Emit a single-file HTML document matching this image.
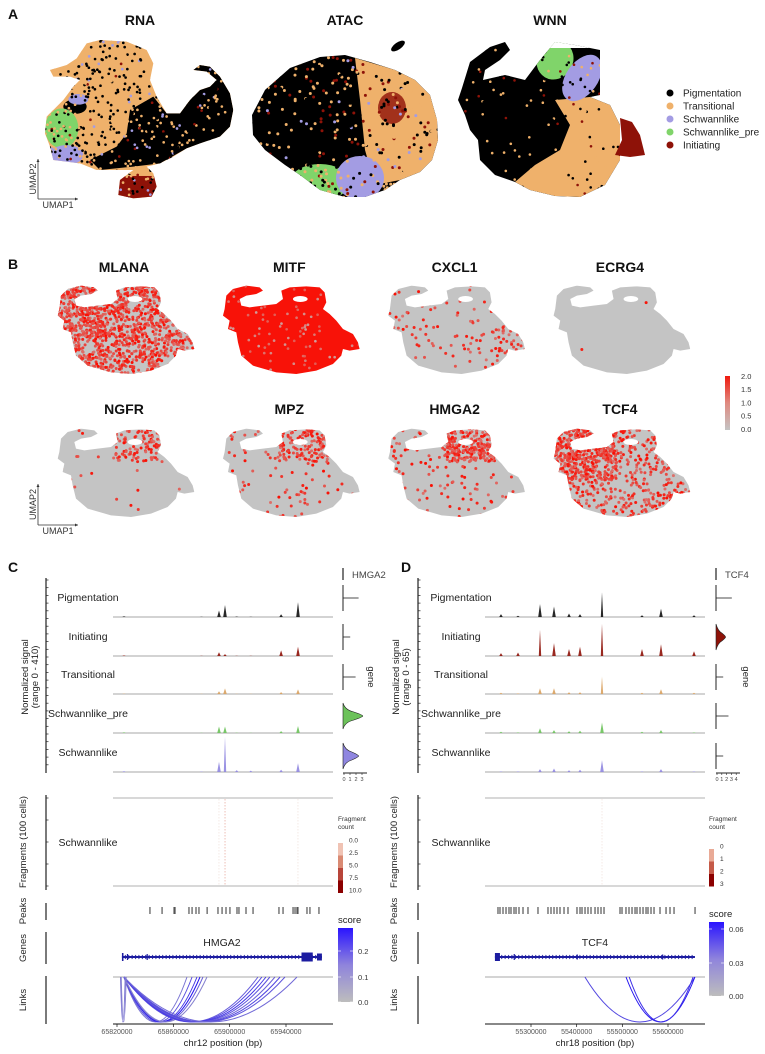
<!DOCTYPE html>
<html><head><meta charset="utf-8">
<style>
html,body{margin:0;padding:0;background:#fff;}
svg{display:block;font-family:"Liberation Sans",Arial,sans-serif;}
</style></head>
<body>
<svg id="fig" xmlns="http://www.w3.org/2000/svg" width="765" height="1054" viewBox="0 0 765 1054">
<defs>
<clipPath id="bshape"><path d="M45,180 L50,140 L70,120 L110,110 L150,115 L160,125 L140,135 L110,140 L90,150 L95,170 L120,175 L160,170 L200,165 L220,150 L215,125 L240,115 L290,112 L330,115 L345,130 L350,160 L340,180 L360,195 L380,215 L400,240 L430,255 L445,280 L450,300 L420,305 L400,300 L395,320 L370,345 L320,365 L260,375 L200,370 L130,350 L95,320 L85,280 L80,250 L55,240 L60,215 L40,200 Z"/></clipPath>
<clipPath id="rnaClip"><path d="M150,210 L200,195 L230,175 L260,130 L300,120 L380,125 L440,150 L460,190 L450,240 L470,290 L500,340 L540,340 L570,300 L600,270 L630,260 L650,240 L620,215 L580,210 L600,195 L630,200 L660,230 L690,280 L700,330 L690,380 L660,410 L600,430 L560,445 L520,470 L480,490 L440,500 L460,520 L470,560 L455,590 L400,595 L355,585 L360,540 L400,510 L350,510 L290,510 L240,490 L160,480 L150,440 L135,400 L140,350 L170,320 L190,300 L220,260 L240,240 L210,230 L160,230 Z"/></clipPath>
<clipPath id="atacClip"><path d="M252,115 L265,90 L290,68 L320,57 L345,55 L370,62 L395,70 L415,80 L430,95 L437,120 L438,140 L432,160 L420,172 L400,180 L385,190 L365,197 L345,197 L320,190 L300,175 L285,165 L265,150 L253,135 Z"/></clipPath>
<clipPath id="wnnClip"><path d="M462,88 L470,62 L490,47 L505,42 L510,50 L500,60 L485,70 L483,80 L505,75 L525,80 L540,60 L555,42 L575,45 L600,50 L600,95 L590,97 L610,105 L620,125 L620,160 L605,185 L580,197 L555,196 L530,190 L515,182 L495,175 L480,160 L478,140 L470,130 L465,115 L458,100 Z"/></clipPath>
<linearGradient id="exprGrad" x1="0" y1="0" x2="0" y2="1"><stop offset="0" stop-color="#f01a0e"/><stop offset="0.5" stop-color="#e08a80"/><stop offset="1" stop-color="#c4c4c4"/></linearGradient>
<linearGradient id="scoreGrad" x1="0" y1="0" x2="0" y2="1"><stop offset="0" stop-color="#2a14ff"/><stop offset="0.5" stop-color="#8f84dc"/><stop offset="1" stop-color="#bdbdbd"/></linearGradient>
</defs>
<g id="root"></g>
</svg>
<script>
// ---------- DATA ----------
const clusterNames = ['Pigmentation','Transitional','Schwannlike','Schwannlike_pre','Initiating'];
const clusterColors = ['#000000','#efb16b','#a39ce3','#80d46a','#8e1208'];

const genes = ['MLANA','MITF','CXCL1','ECRG4','NGFR','MPZ','HMGA2','TCF4'];
const geneBaseFrac = [0.55, 0.9, 0.05, 0.004, 0.01, 0.04, 0.08, 0.25];
const geneHotRegion = ['arm','all','rightlobe','none','loop','loop','loop','arm'];
const geneHotFrac = [0.8, 0.95, 0.3, 0, 0.3, 0.45, 0.75, 0.85];
const exprTicks = ['2.0','1.5','1.0','0.5','0.0'];

const trackNames = ['Pigmentation','Initiating','Transitional','Schwannlike_pre','Schwannlike'];
const trackColors = ['#111111','#8e1208','#d9a15e','#6cc25a','#8f86e0'];

const cPeakPos = [65825000, 65880000, 65892400, 65896700, 65905000, 65915000, 65936500, 65948500];
const cSigPig = [8, 3, 70, 130, 5, 3, 30, 160];
const cSigIni = [6, 2, 40, 20, 3, 2, 60, 100];
const cSigTra = [4, 2, 30, 60, 3, 2, 20, 50];
const cSigPre = [8, 3, 70, 70, 4, 3, 20, 75];
const cSigSch = [10, 5, 110, 380, 20, 15, 25, 95];
const cViolinMax = [2.6, 1.2, 2.1, 3.3, 2.6];
const cViolinFilled = [false, false, false, true, true];

const dPeakPos = [55234300, 55271500, 55319700, 55350400, 55383200, 55407300, 55455500, 55543000, 55584600, 55657000];
const dSigPig = [5, 2, 22, 18, 6, 5, 42, 3, 14, 3];
const dSigIni = [5, 6, 45, 22, 12, 16, 55, 12, 20, 8];
const dSigTra = [2, 1, 10, 10, 3, 3, 30, 2, 8, 2];
const dSigPre = [2, 1, 8, 5, 3, 4, 18, 2, 5, 1];
const dSigSch = [1, 1, 5, 6, 3, 4, 20, 1, 5, 1];
const dViolinMax = [3.3, 2.0, 1.5, 2.6, 1.5];
const dViolinFilled = [false, true, false, false, false];

const cPeaksRegions = [65843400,65852000,65860500,65861200,65871100,65873300,65876100,65878200,65884000,65891700,65894600,65897400,65900200,65905200,65906600,65911600,65916600,65935000,65937900,65945000,65946400,65947800,65948500,65954900,65957000,65963400];
const dPeaksRegions = [55227700,55232100,55238700,55245300,55251800,55256200,55262800,55267200,55273700,55282500,55293400,55315300,55337200,55343800,55350400,55356900,55363500,55372300,55381000,55400700,55407300,55411700,55418300,55424800,55431400,55440200,55446700,55453300,55459900,55494900,55499300,55508000,55514600,55521200,55527800,55532100,55538700,55545300,55551900,55556200,55562800,55569400,55582500,55595700,55604400,55613200,55659200];

const cLinkStart = [65824800,65825000,65825200,65825000,65824900,65825100,65825000,65824800,65825000,65825200,65825000,65824900,65825000,65825000,65822500,65823000];
const cLinkEnd   = [65869700,65873300,65876800,65878900,65881100,65883900,65920100,65922900,65925800,65928600,65932200,65935800,65939300,65947800,65825800,65826500];
const cLinkScore = [0.12,0.18,0.22,0.28,0.15,0.1,0.16,0.2,0.22,0.18,0.15,0.2,0.17,0.14,0.12,0.1];
const dLinkStart = [55418000, 55508000, 55515000];
const dLinkEnd   = [55659000, 55659000, 55655000];
const dLinkScore = [0.045, 0.065, 0.055];

const cTicks = [65820000, 65860000, 65900000, 65940000];
const dTicks = [55300000, 55400000, 55500000, 55600000];
const cFragLabels = ['0.0','2.5','5.0','7.5','10.0'];
const dFragLabels = ['0','1','2','3'];
const fragColors5 = ['#ffffff','#f0c3b4','#d98a73','#b8453a','#8b0000'];
const fragColors4 = ['#ffffff','#e9aa96','#c55a48','#8b0000'];
const cScoreTicks = ['0.2','0.1','0.0'];
const dScoreTicks = ['0.06','0.03','0.00'];

// ---------- HELPERS ----------
const NS = 'http://www.w3.org/2000/svg';
const root = document.getElementById('root');
function mk(tag, attrs, parent, name) {
  const el = document.createElementNS(NS, tag);
  for (const k in attrs) el.setAttribute(k, attrs[k]);
  
  
  (parent || root).appendChild(el);
  return el;
}
function txt(x, y, s, attrs, parent, name) {
  const a = Object.assign({x: x, y: y, 'font-size': 10, fill: '#111'}, attrs || {});
  const el = mk('text', a, parent, name);
  el.textContent = s;
  return el;
}
function rng(seed) { let s = seed; return function () { s = (s * 16807) % 2147483647; return (s - 1) / 2147483646; }; }

// ---------- PANEL LETTERS ----------
txt(8, 19, 'A', {'font-size': 14, 'font-weight': 'bold'}, null, 'panel-label-a');
txt(8, 269, 'B', {'font-size': 14, 'font-weight': 'bold'}, null, 'panel-label-b');
txt(8, 572, 'C', {'font-size': 14, 'font-weight': 'bold'}, null, 'panel-label-c');
txt(401, 572, 'D', {'font-size': 14, 'font-weight': 'bold'}, null, 'panel-label-d');

// ---------- PANEL A ----------
const gA = mk('g', {}, null, 'panel-a');
txt(140, 25, 'RNA', {'font-size': 14, 'font-weight': 'bold', 'text-anchor': 'middle'}, gA, 'rna-title');
txt(345, 25, 'ATAC', {'font-size': 14, 'font-weight': 'bold', 'text-anchor': 'middle'}, gA, 'atac-title');
txt(550, 25, 'WNN', {'font-size': 14, 'font-weight': 'bold', 'text-anchor': 'middle'}, gA, 'wnn-title');

function speckle(parent, seed, x0, y0, w, h, n, r, colors, weights, name) {
  const R = rng(seed);
  for (let i = 0; i < n; i++) {
    const u = R(); let acc = 0, ci = 0;
    for (let j = 0; j < weights.length; j++) { acc += weights[j]; if (u < acc) { ci = j; break; } }
    mk('circle', {cx: (x0 + R() * w).toFixed(1), cy: (y0 + R() * h).toFixed(1), r: r, fill: colors[ci]}, parent, 'umap-cell');
  }
}
// RNA
const gRna = mk('g', {transform: 'scale(0.3333)'}, gA, 'rna-umap');
const gRnaC = mk('g', {'clip-path': 'url(#rnaClip)'}, gRna, 'rna-umap-clusters');
mk('rect', {x: 100, y: 100, width: 620, height: 520, fill: clusterColors[1]}, gRnaC, 'rna-transitional-region');
mk('path', {d: 'M390,330 L460,290 L500,340 L540,340 L570,300 L600,270 L630,260 L650,240 L620,215 L580,210 L600,195 L630,200 L660,230 L690,280 L700,330 L690,380 L660,410 L560,445 L480,490 L400,500 L300,510 L270,480 L350,440 L380,400 Z', fill: clusterColors[0]}, gRnaC, 'rna-pigmentation-region');
mk('ellipse', {cx: 225, cy: 320, rx: 35, ry: 22, fill: clusterColors[0]}, gRnaC, 'rna-pigmentation-patch');
mk('ellipse', {cx: 185, cy: 385, rx: 50, ry: 60, fill: clusterColors[3]}, gRnaC, 'rna-schwannlike-pre-region');
mk('ellipse', {cx: 200, cy: 465, rx: 50, ry: 30, fill: clusterColors[2]}, gRnaC, 'rna-schwannlike-region');
mk('ellipse', {cx: 235, cy: 298, rx: 30, ry: 16, fill: clusterColors[2]}, gRnaC, 'rna-schwannlike-patch');
mk('rect', {x: 340, y: 528, width: 140, height: 80, fill: clusterColors[4]}, gRnaC, 'rna-initiating-region');
speckle(gRnaC, 11, 130, 110, 580, 490, 1000, 4, ['#000', clusterColors[1], clusterColors[2], clusterColors[4]], [0.5, 0.4, 0.06, 0.04], 'rna-speckle');
// ATAC
const gAt = mk('g', {'clip-path': 'url(#atacClip)'}, gA, 'atac-umap');
mk('rect', {x: 250, y: 50, width: 195, height: 150, fill: clusterColors[0]}, gAt, 'atac-pigmentation-region');
mk('path', {d: 'M355,58 L395,70 L415,80 L430,95 L437,120 L438,140 L432,160 L420,172 L400,180 L375,185 L365,150 L360,100 Z', fill: clusterColors[1]}, gAt, 'atac-transitional-region');
mk('ellipse', {cx: 392, cy: 108, rx: 14, ry: 16, fill: clusterColors[4], opacity: 0.8}, gAt, 'atac-initiating-region');
mk('ellipse', {cx: 320, cy: 182, rx: 30, ry: 18, fill: clusterColors[3]}, gAt, 'atac-schwannlike-pre-region');
mk('ellipse', {cx: 360, cy: 178, rx: 24, ry: 22, fill: clusterColors[2]}, gAt, 'atac-schwannlike-region');
speckle(gAt, 23, 250, 55, 190, 145, 450, 1.5, ['#000', clusterColors[1], clusterColors[4], clusterColors[2]], [0.35, 0.4, 0.2, 0.05], 'atac-speckle');
mk('ellipse', {cx: 398, cy: 46, rx: 8, ry: 3.5, transform: 'rotate(-35 398 46)', fill: '#000'}, gA, 'atac-island');
// WNN
const gW = mk('g', {'clip-path': 'url(#wnnClip)'}, gA, 'wnn-umap');
mk('rect', {x: 455, y: 38, width: 170, height: 165, fill: clusterColors[0]}, gW, 'wnn-pigmentation-region');
mk('path', {d: 'M555,100 L590,97 L610,105 L620,125 L620,160 L605,185 L580,197 L555,196 L530,190 L515,182 L535,165 L560,150 L570,125 Z', fill: clusterColors[1]}, gW, 'wnn-transitional-region');
mk('ellipse', {cx: 555, cy: 60, rx: 18, ry: 20, transform: 'rotate(30 555 60)', fill: clusterColors[3]}, gW, 'wnn-schwannlike-pre-region');
mk('ellipse', {cx: 582, cy: 78, rx: 16, ry: 26, transform: 'rotate(35 582 78)', fill: clusterColors[2]}, gW, 'wnn-schwannlike-region');
mk('rect', {x: 520, y: 42, width: 100, height: 6, fill: '#fff'}, gW, 'wnn-gap');
speckle(gW, 37, 460, 50, 160, 145, 180, 1.3, ['#000', clusterColors[1], clusterColors[4]], [0.5, 0.4, 0.1], 'wnn-speckle');
mk('path', {d: 'M620,118 L632,122 L640,135 L645,155 L630,157 L615,155 L622,140 Z', fill: clusterColors[4]}, gA, 'wnn-initiating-region');
// legend
const gLeg = mk('g', {}, gA, 'cluster-legend');
clusterNames.forEach(function (n, i) {
  const y = 93 + i * 13;
  mk('circle', {cx: 670, cy: y, r: 3.5, fill: clusterColors[i]}, gLeg, 'legend-dot-' + n.toLowerCase());
  txt(683, y + 3.5, n, {'font-size': 10, fill: '#222'}, gLeg, 'legend-entry-' + n.toLowerCase());
});
// UMAP axes
function umapAxes(x, y, top, right, parent, tag) {
  mk('line', {x1: x, y1: y, x2: x, y2: top, stroke: '#333', 'stroke-width': 0.8}, parent, tag + '-umap2-axis');
  mk('line', {x1: x, y1: y, x2: right, y2: y, stroke: '#333', 'stroke-width': 0.8}, parent, tag + '-umap1-axis');
  mk('path', {d: 'M' + (x - 1.5) + ',' + (top + 3) + ' L' + x + ',' + top + ' L' + (x + 1.5) + ',' + (top + 3) + 'Z', fill: '#333'}, parent, tag + '-umap2-arrow');
  mk('path', {d: 'M' + (right - 3) + ',' + (y - 1.5) + ' L' + right + ',' + y + ' L' + (right - 3) + ',' + (y + 1.5) + 'Z', fill: '#333'}, parent, tag + '-umap1-arrow');
  txt(x - 2, (y + top) / 2, 'UMAP2', {'font-size': 9, 'text-anchor': 'middle', transform: 'rotate(-90 ' + (x - 2) + ' ' + ((y + top) / 2) + ')', fill: '#333'}, parent, tag + '-umap2-label');
  txt((x + right) / 2, y + 9, 'UMAP1', {'font-size': 9, 'text-anchor': 'middle', fill: '#333'}, parent, tag + '-umap1-label');
}
umapAxes(38, 199, 159, 78, gA, 'a');

// ---------- PANEL B ----------
const gB = mk('g', {}, null, 'panel-b');
const regionBoxes = {arm: [40, 105, 230, 265], loop: [205, 105, 360, 210], rightlobe: [370, 220, 455, 310], all: [0, 0, 500, 400], none: [0, 0, 0, 0]};
function inBox(b, x, y) { return x >= b[0] && x <= b[2] && y >= b[1] && y <= b[3]; }
function mixRed(t) {
  const g = [196, 196, 196], r = [250, 12, 0];
  return 'rgb(' + Math.round(g[0] + (r[0] - g[0]) * t) + ',' + Math.round(g[1] + (r[1] - g[1]) * t) + ',' + Math.round(g[2] + (r[2] - g[2]) * t) + ')';
}
genes.forEach(function (gname, i) {
  const col = i % 4, row = Math.floor(i / 4);
  const x0 = 56 + col * 165.3, y0 = 284 + row * 143;
  const cx = x0 + 68;
  txt(cx, 272 + row * 142, gname, {'font-size': 14, 'font-weight': 'bold', 'text-anchor': 'middle'}, gB, 'gene-title-' + gname.toLowerCase());
  const g = mk('g', {transform: 'translate(' + x0 + ',' + y0 + ') scale(0.3333) translate(-35,-105)'}, gB, 'feature-umap-' + gname.toLowerCase());
  const gc = mk('g', {'clip-path': 'url(#bshape)'}, g, 'feature-umap-cells-' + gname.toLowerCase());
  const base = geneBaseFrac[i];
  const solid = base > 0.7;
  mk('rect', {x: 30, y: 100, width: 430, height: 285, fill: solid ? '#f81208' : '#c4c4c4'}, gc, 'feature-umap-base-' + gname.toLowerCase());
  mk('ellipse', {cx: 272, cy: 150, rx: 22, ry: 9, fill: '#fff'}, g, 'feature-umap-hole');
  const R = rng(101 + i * 7);
  const box = regionBoxes[geneHotRegion[i]];
  const N = 2400;
  for (let k = 0; k < N; k++) {
    const px = 40 + R() * 415, py = 108 + R() * 270;
    const p = inBox(box, px, py) ? geneHotFrac[i] : base;
    const u = R();
    if (solid) {
      if (u > p) mk('circle', {cx: px.toFixed(1), cy: py.toFixed(1), r: 4, fill: mixRed(0.2 + R() * 0.4)}, gc, 'cell-' + gname.toLowerCase());
    } else if (u < p) {
      mk('circle', {cx: px.toFixed(1), cy: py.toFixed(1), r: 4.5, fill: mixRed(0.45 + R() * 0.55)}, gc, 'cell-' + gname.toLowerCase());
    }
  }
});
mk('rect', {x: 725, y: 376, width: 5, height: 54, fill: 'url(#exprGrad)'}, gB, 'expression-colorbar');
exprTicks.forEach(function (t, i) {
  txt(741, 379 + i * 13.2, t, {'font-size': 7.5, fill: '#333'}, gB, 'expression-tick-' + t);
});
umapAxes(38, 525, 484, 78, gB, 'b');

// ---------- PANELS C & D ----------
function coveragePanel(cfg) {
  const g = mk('g', {}, null, cfg.tag);
  const xs = function (bp) { return cfg.x0 + (bp - cfg.refBp) * cfg.pxPerBp; };
  const L = cfg.left, Rr = cfg.right;
  const baselines = [617, 656, 694, 733, 772];
  const labelYs = [601, 640, 678, 717, 756];
  const sigs = cfg.sigs;
  mk('line', {x1: cfg.axX, y1: 578, x2: cfg.axX, y2: 773, stroke: '#222', 'stroke-width': 1.2}, g, 'signal-axis');
  for (let y = 580; y <= 772; y += 7.7) mk('line', {x1: cfg.axX, y1: y, x2: cfg.axX + 2.5, y2: y, stroke: '#222', 'stroke-width': 0.7}, g, 'signal-axis-tick');
  const ytx = cfg.titleX;
  txt(ytx, 677, 'Normalized signal', {'font-size': 9.5, 'text-anchor': 'middle', transform: 'rotate(-90 ' + ytx + ' 677)', fill: '#222'}, g, 'signal-axis-title');
  txt(ytx + 10, 677, cfg.rangeLabel, {'font-size': 9.5, 'text-anchor': 'middle', transform: 'rotate(-90 ' + (ytx + 10) + ' 677)', fill: '#222'}, g, 'signal-axis-range');
  trackNames.forEach(function (n, i) {
    txt(cfg.labelX, labelYs[i], n, {'font-size': 10.5, 'text-anchor': 'middle', fill: '#222'}, g, 'track-label-' + n.toLowerCase());
    mk('line', {x1: L, y1: baselines[i], x2: Rr, y2: baselines[i], stroke: '#8a8a8a', 'stroke-width': 0.7}, g, 'track-baseline-' + n.toLowerCase());
    cfg.peakPos.forEach(function (bp, j) {
      const h = sigs[i][j] / cfg.maxSig * 38;
      const x = xs(bp);
      const w = h > 15 ? 1.2 : 1.8;
      mk('path', {d: 'M' + (x - w).toFixed(1) + ',' + baselines[i] + ' L' + x.toFixed(1) + ',' + (baselines[i] - h).toFixed(1) + ' L' + (x + w).toFixed(1) + ',' + baselines[i] + 'Z', fill: trackColors[i], opacity: 0.9}, g, 'signal-peak-' + n.toLowerCase());
    });
  });
  const vRow = [598, 637, 677, 716, 756];
  const vx = cfg.vX;
  trackNames.forEach(function (n, i) {
    const cy = vRow[i], mx = vx + cfg.vMax[i] * cfg.vScale;
    if (cfg.vFilled[i]) {
      mk('path', {d: 'M' + vx + ',' + (cy - 13) + ' Q' + (vx + 2) + ',' + (cy - 6) + ' ' + ((vx + mx) / 2 + 1) + ',' + (cy - 4) + ' Q' + (mx) + ',' + (cy - 1) + ' ' + mx + ',' + cy + ' Q' + mx + ',' + (cy + 1) + ' ' + ((vx + mx) / 2 + 1) + ',' + (cy + 4) + ' Q' + (vx + 2) + ',' + (cy + 6) + ' ' + vx + ',' + (cy + 13) + ' Z', fill: trackColors[i], stroke: '#222', 'stroke-width': 0.6}, g, 'violin-' + n.toLowerCase());
    } else {
      mk('line', {x1: vx, y1: cy - 13, x2: vx, y2: cy + 13, stroke: '#222', 'stroke-width': 1}, g, 'violin-' + n.toLowerCase());
      mk('line', {x1: vx, y1: cy, x2: mx, y2: cy, stroke: '#222', 'stroke-width': 0.8}, g, 'violin-tail-' + n.toLowerCase());
    }
  });
  mk('line', {x1: vx, y1: 773, x2: vx + cfg.vTicks.length * cfg.vScale, y2: 773, stroke: '#222', 'stroke-width': 1}, g, 'violin-x-axis');
  cfg.vTicks.forEach(function (t, k) {
    const x = vx + 1 + k * cfg.vScale;
    mk('line', {x1: x, y1: 773, x2: x, y2: 775, stroke: '#222', 'stroke-width': 0.6}, g, 'violin-tick');
    txt(x, 781, t, {'font-size': 5.5, 'text-anchor': 'middle', fill: '#444'}, g, 'violin-tick-label');
  });
  mk('line', {x1: vx, y1: 568, x2: vx, y2: 580, stroke: '#222', 'stroke-width': 1.2}, g, 'gene-header-bar');
  txt(vx + 9, 578, cfg.gene, {'font-size': 9.5, fill: '#444'}, g, 'gene-header');
  txt(cfg.geneX, 677, 'gene', {'font-size': 9.5, 'text-anchor': 'middle', transform: 'rotate(90 ' + cfg.geneX + ' 677)', fill: '#222'}, g, 'violin-axis-title');

  mk('line', {x1: cfg.axX, y1: 795, x2: cfg.axX, y2: 890, stroke: '#222', 'stroke-width': 1.2}, g, 'fragment-axis');
  [798, 820, 842, 864, 886].forEach(function (y) { mk('line', {x1: cfg.axX, y1: y, x2: cfg.axX + 2.5, y2: y, stroke: '#222', 'stroke-width': 0.7}, g, 'fragment-axis-tick'); });
  txt(ytx - 2, 842, 'Fragments (100 cells)', {'font-size': 9.5, 'text-anchor': 'middle', transform: 'rotate(-90 ' + (ytx - 2) + ' 842)', fill: '#222'}, g, 'fragment-axis-title');
  mk('line', {x1: L, y1: 798, x2: Rr, y2: 798, stroke: '#999', 'stroke-width': 0.8}, g, 'fragment-top-line');
  mk('line', {x1: L, y1: 886, x2: Rr, y2: 886, stroke: '#999', 'stroke-width': 0.8}, g, 'fragment-bottom-line');
  txt(cfg.labelX, 846, 'Schwannlike', {'font-size': 10.5, 'text-anchor': 'middle', fill: '#222'}, g, 'fragment-track-label');
  cfg.peakPos.forEach(function (bp, j) {
    const s = sigs[4][j] / cfg.maxSig;
    if (s > 0.2) mk('line', {x1: xs(bp), y1: 799, x2: xs(bp), y2: 885, stroke: s > 0.5 ? '#e6a496' : '#f0e0da', 'stroke-width': 0.7, 'stroke-dasharray': '1.5,1.5'}, g, 'fragment-column');
  });
  txt(cfg.legX, 821, 'Fragment', {'font-size': 6.5, fill: '#333'}, g, 'fragment-legend-title');
  txt(cfg.legX, 829, 'count', {'font-size': 6.5, fill: '#333'}, g, 'fragment-legend-title-2');
  const fl = cfg.fragLabels, fc = cfg.fragColors;
  const step = cfg.fragStep;
  fl.forEach(function (t, k) {
    const y = cfg.fragY0 + k * step;
    if (k > 0) mk('rect', {x: cfg.legX, y: y - step + 3, width: 5, height: step, fill: fc[k]}, g, 'fragment-legend-swatch');
    txt(cfg.legX + 11, y + 2.5, t, {'font-size': 6.5, fill: '#333'}, g, 'fragment-legend-label');
  });

  mk('line', {x1: cfg.axX, y1: 903, x2: cfg.axX, y2: 920, stroke: '#222', 'stroke-width': 1.2}, g, 'peaks-axis');
  txt(ytx - 2, 911, 'Peaks', {'font-size': 9.5, 'text-anchor': 'middle', transform: 'rotate(-90 ' + (ytx - 2) + ' 911)', fill: '#222'}, g, 'peaks-axis-title');
  cfg.peaks.forEach(function (bp) { mk('rect', {x: xs(bp) - 0.6, y: 907, width: 1.2, height: 7, fill: '#555'}, g, 'peak-region'); });

  mk('line', {x1: cfg.axX, y1: 932, x2: cfg.axX, y2: 964, stroke: '#222', 'stroke-width': 1.2}, g, 'genes-axis');
  txt(ytx - 2, 948, 'Genes', {'font-size': 9.5, 'text-anchor': 'middle', transform: 'rotate(-90 ' + (ytx - 2) + ' 948)', fill: '#222'}, g, 'genes-axis-title');
  const gs = xs(cfg.geneStart), ge = xs(cfg.geneEnd);
  txt((gs + ge) / 2 + cfg.geneLabelDx, 946, cfg.gene, {'font-size': 10.5, 'text-anchor': 'middle', fill: '#222'}, g, 'gene-model-label');
  mk('line', {x1: gs, y1: 957, x2: ge, y2: 957, stroke: '#1c1ca0', 'stroke-width': 2}, g, 'gene-model-intron');
  for (let x = gs + 3; x < ge - 2; x += 3.4) mk('path', {d: 'M' + x.toFixed(1) + ',955 L' + (x + 1.6).toFixed(1) + ',957 L' + x.toFixed(1) + ',959', fill: 'none', stroke: '#1c1ca0', 'stroke-width': 0.8}, g, 'gene-model-strand');
  cfg.exons.forEach(function (e) {
    mk('rect', {x: xs(e[0]), y: 957 - e[2], width: Math.max(1.2, xs(e[1]) - xs(e[0])), height: e[2] * 2, fill: '#1c1ca0'}, g, 'gene-model-exon');
  });
  txt(cfg.legX, 923 + cfg.scoreDy, 'score', {'font-size': 9.5, fill: '#222'}, g, 'score-legend-title');
  mk('rect', {x: cfg.legX, y: 928 + cfg.scoreDy, width: 15, height: 74, fill: 'url(#scoreGrad)'}, g, 'score-colorbar');
  cfg.scoreTicks.forEach(function (t, k) {
    const y = cfg.scoreTickY[k];
    txt(cfg.legX + 20, y + 3, t, {'font-size': 7.5, fill: '#333'}, g, 'score-tick-label');
    mk('line', {x1: cfg.legX, y1: y, x2: cfg.legX + 3, y2: y, stroke: '#fff', 'stroke-width': 0.6}, g, 'score-tick');
    mk('line', {x1: cfg.legX + 12, y1: y, x2: cfg.legX + 15, y2: y, stroke: '#fff', 'stroke-width': 0.6}, g, 'score-tick');
  });

  mk('line', {x1: cfg.axX, y1: 976, x2: cfg.axX, y2: 1024, stroke: '#222', 'stroke-width': 1.2}, g, 'links-axis');
  txt(ytx - 2, 1000, 'Links', {'font-size': 9.5, 'text-anchor': 'middle', transform: 'rotate(-90 ' + (ytx - 2) + ' 1000)', fill: '#222'}, g, 'links-axis-title');
  mk('line', {x1: L, y1: 977, x2: Rr, y2: 977, stroke: '#aaa', 'stroke-width': 1}, g, 'links-baseline');
  cfg.linkStart.forEach(function (s, k) {
    const x1 = xs(s), x2 = xs(cfg.linkEnd[k]);
    const t = cfg.linkScore[k] / cfg.scoreMax;
    const r = Math.round(189 + (36 - 189) * t), gg = Math.round(189 + (20 - 189) * t), b = Math.round(189 + (240 - 189) * t);
    mk('path', {d: 'M' + x1.toFixed(1) + ',977 Q' + ((x1 + x2) / 2).toFixed(1) + ',1067 ' + x2.toFixed(1) + ',977', fill: 'none', stroke: 'rgb(' + r + ',' + gg + ',' + b + ')', 'stroke-width': 1}, g, 'link-arc');
  });
  mk('line', {x1: L, y1: 1024, x2: Rr, y2: 1024, stroke: '#111', 'stroke-width': 1}, g, 'genomic-x-axis');
  cfg.ticks.forEach(function (t) {
    const x = xs(t);
    mk('line', {x1: x, y1: 1024, x2: x, y2: 1027, stroke: '#111', 'stroke-width': 0.7}, g, 'x-tick');
    txt(x, 1034, String(t), {'font-size': 7, 'text-anchor': 'middle', fill: '#555'}, g, 'x-tick-label');
  });
  txt((L + Rr) / 2, 1046, cfg.xTitle, {'font-size': 9.5, 'text-anchor': 'middle', fill: '#222'}, g, 'x-axis-title');
}

coveragePanel({
  tag: 'panel-c', x0: 117, refBp: 65820000, pxPerBp: 169 / 120000, left: 113, right: 333,
  axX: 46, titleX: 28, labelX: 88, rangeLabel: '(range 0 - 410)', maxSig: 410,
  sigs: [cSigPig, cSigIni, cSigTra, cSigPre, cSigSch], peakPos: cPeakPos,
  vX: 343, vScale: 6, vMax: cViolinMax, vFilled: cViolinFilled, vTicks: ['0','1','2','3'],
  gene: 'HMGA2', geneX: 368, legX: 338, fragLabels: cFragLabels, fragColors: fragColors5, fragY0: 840, fragStep: 12.5,
  peaks: cPeaksRegions, geneStart: 65823500, geneEnd: 65965500, geneLabelDx: 0,
  exons: [[65823500, 65824600, 4], [65827000, 65827600, 3], [65841000, 65841500, 3], [65951000, 65959000, 4.5], [65962000, 65965500, 3.5]],
  scoreDy: 0, scoreTicks: cScoreTicks, scoreTickY: [951, 977, 1002], scoreMax: 0.28,
  linkStart: cLinkStart, linkEnd: cLinkEnd, linkScore: cLinkScore,
  ticks: cTicks, xTitle: 'chr12 position (bp)'
});
coveragePanel({
  tag: 'panel-d', x0: 531, refBp: 55300000, pxPerBp: 137 / 300000, left: 485, right: 705,
  axX: 418, titleX: 399, labelX: 461, rangeLabel: '(range 0 - 65)', maxSig: 65,
  sigs: [dSigPig, dSigIni, dSigTra, dSigPre, dSigSch], peakPos: dPeakPos,
  vX: 716, vScale: 4.8, vMax: dViolinMax, vFilled: dViolinFilled, vTicks: ['0','1','2','3','4'],
  gene: 'TCF4', geneX: 743, legX: 709, fragLabels: dFragLabels, fragColors: fragColors4, fragY0: 846, fragStep: 12.5,
  peaks: dPeaksRegions, geneStart: 55221000, geneEnd: 55659000, geneLabelDx: 0,
  exons: [[55221000, 55232000, 4], [55262000, 55264000, 3], [55400000, 55401000, 2.5], [55587000, 55588000, 2.5]],
  scoreDy: -6, scoreTicks: dScoreTicks, scoreTickY: [929, 963, 996], scoreMax: 0.065,
  linkStart: dLinkStart, linkEnd: dLinkEnd, linkScore: dLinkScore,
  ticks: dTicks, xTitle: 'chr18 position (bp)'
});
</script>
</body></html>
